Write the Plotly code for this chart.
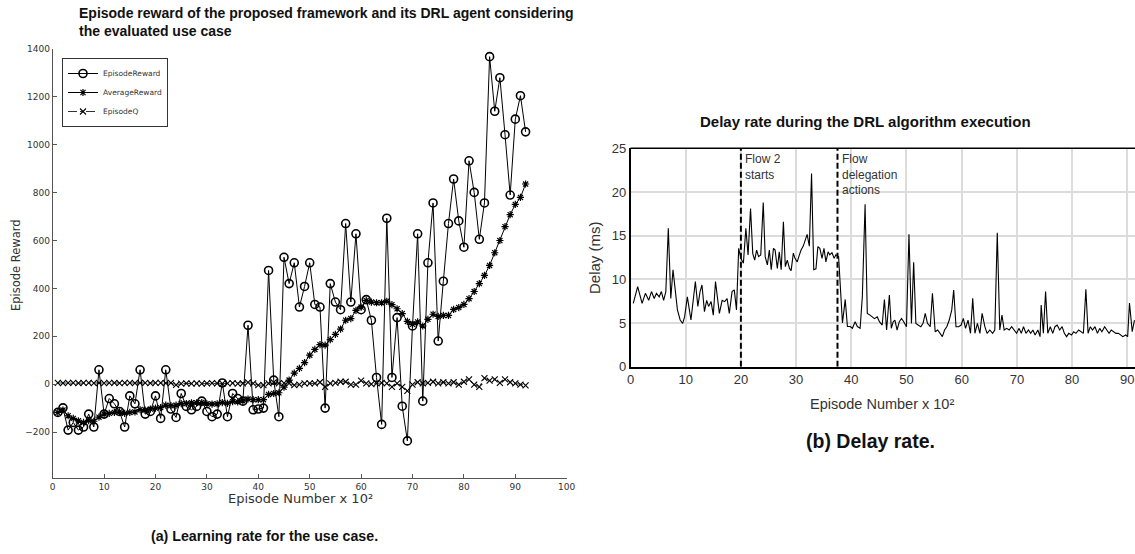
import plotly.graph_objects as go

# ---------------- Left chart data (episode number x 10^2) ----------------
episodes = list(range(1, 93))
episode_reward = [-118, -99, -192, -160, -192, -179, -125, -179, 60, -125,
                  -60, -82, -114, -179, -49, -82, 60, -125, -114, -49,
                  -143, 60, -104, -139, -39, -93, -107, -93, -71, -114,
                  -136, -125, 5, -136, -39, -60, -71, 246, -107, -104,
                  -100, 475, 17, -136, 530, 420, 507, 322, 408, 507,
                  333, 322, -100, 420, 343, 311, 671, 343, 628, 311,
                  353, 267, 28, -168, 693, 28, 278, -92, -237, 243,
                  628, -71, 507, 757, 180, 430, 671, 857, 682, 572,
                  933, 801, 605, 757, 1368, 1140, 1280, 1042, 790, 1107,
                  1205, 1054]
average_reward = [-118, -108, -132, -143, -153, -160, -152, -155, -138, -125,
                  -122, -118, -116, -122, -118, -116, -106, -108, -104, -100,
                  -98, -88, -90, -88, -81, -81, -78, -78, -77, -82,
                  -83, -82, -77, -80, -73, -74, -70, -62, -65, -65,
                  -65, -43, -39, -36, -13, 17, 46, 66, 90, 121,
                  145, 165, 163, 186, 208, 230, 267, 274, 308, 322,
                  350, 343, 340, 340, 346, 332, 315, 295, 262, 250,
                  260, 243, 271, 292, 283, 287, 287, 312, 320, 333,
                  357, 387, 420, 454, 496, 549, 600, 658, 708, 751,
                  780, 836]
episode_q = [5, 4, 5, 5, 4, 5, 5, 4, 5, 4,
             5, 5, 4, 5, 5, 4, 5, 5, 4, 5,
             5, 4, 5, -3, 2, 3, 2, 3, 2, 3,
             4, 3, 2, 3, 4, 2, 3, 7, 3, -4,
             -4, 3, 7, 3, 4, 3, -4, -2, 3, 3,
             3, 8, -11, 3, 5, 10, 10, -2, -2, 15,
             3, 0, 3, 5, 3, -11, 3, -11, -28, -2,
             8, 3, 5, 10, 3, 8, 3, 8, -2, 10,
             20, -2, -11, 25, 15, 20, 5, 20, 8, 3,
             -2, -5]

# ---------------- Right chart data ----------------
delay_x = [0.5, 1.3, 2.1, 2.7, 3.3, 3.8, 4.3, 4.7, 5.2, 5.6, 6.0, 6.4, 6.85, 7.3, 7.7,
           8.1, 8.5, 9.0, 9.45, 9.8, 10.3, 10.95, 11.75, 12.2, 12.6, 12.95, 13.4, 13.8,
           14.15, 14.6, 15.0, 15.4, 15.8, 16.1, 16.6, 17.05, 17.5, 17.9, 18.4, 18.8, 19.2,
           19.6, 20.0, 20.45, 20.9, 21.3, 21.75, 22.15, 22.5, 22.85, 23.2, 23.6, 24.05,
           24.4, 24.8, 25.15, 25.5, 25.9, 26.2, 26.6, 26.95, 27.3, 27.7, 28.05, 28.4,
           28.8, 29.1, 29.5, 29.8, 30.2, 30.6, 30.9, 31.3, 31.6, 32.0, 32.4, 32.8, 33.2,
           33.6, 33.95, 34.3, 34.7, 35.05, 35.4, 35.8, 36.1, 36.5, 36.9, 37.2, 37.7,
           38.4, 38.9, 39.3, 39.8, 40.2, 40.7, 41.1, 41.6, 42.0, 42.5, 42.9, 43.4, 43.8,
           44.2, 44.7, 45.1, 45.6, 46.0, 46.4, 46.9, 47.25, 47.6, 47.9, 48.3, 48.7, 49.1,
           49.5, 50.0, 50.45, 50.9, 51.3, 51.7, 52.1, 52.6, 53.0, 53.4, 53.8, 54.3, 54.7,
           55.2, 55.65, 56.1, 56.5, 56.9, 57.3, 57.75, 58.2, 58.55, 58.97, 59.45, 59.9,
           60.3, 60.7, 61.15, 61.6, 62.0, 62.4, 62.85, 63.3, 63.7, 64.2, 64.6, 65.1, 65.6,
           66.0, 66.45, 66.9, 67.3, 67.7, 68.15, 68.6, 69.05, 69.5, 69.95, 70.4, 70.8,
           71.2, 71.65, 72.1, 72.5, 72.9, 73.3, 73.8, 74.2, 74.4, 74.8, 75.2, 75.6, 76.05,
           76.5, 76.9, 77.3, 77.75, 78.2, 78.6, 79.0, 79.4, 79.9, 80.3, 80.7, 81.2, 81.6,
           82.05, 82.5, 82.9, 83.3, 83.7, 84.15, 84.6, 85.0, 85.4, 85.9, 86.3, 86.7, 87.1,
           87.5, 87.95, 88.4, 88.8, 89.2, 89.7, 90.07, 90.4, 90.9, 91.3]
delay_ms = [7.25, 9.16, 7.25, 8.4, 7.6, 8.6, 7.8, 8.4, 8.0, 8.6, 7.6, 8.6, 15.85, 7.8, 11.1,
            8.8, 6.5, 5.35, 4.95, 5.7, 8.0, 5.35, 9.75, 6.9, 8.6, 9.35, 6.3, 7.6,
            6.9, 7.45, 5.9, 9.75, 7.25, 6.1, 7.6, 7.45, 7.8, 6.1, 8.6, 8.8, 6.5,
            13.55, 12.4, 11.85, 15.85, 12.8, 18.1, 12.95, 12.2, 13.35, 12.6, 12.8, 18.8,
            12.6, 11.65, 13.35, 11.1, 13.55, 13.35, 11.25, 13.15, 11.1, 16.6, 11.45, 12.2,
            11.25, 11.0, 13.0, 12.4, 12.0, 12.8, 13.35, 13.8, 14.5, 15.15, 13.8, 22.1, 11.1,
            11.2, 13.75, 13.55, 12.4, 13.55, 12.0, 13.15, 12.8, 13.05, 12.4, 12.8, 12.6,
            5.0, 7.7, 4.6, 4.6, 4.4, 5.15, 4.6, 4.4, 8.0, 18.6, 6.1, 5.9, 5.7,
            5.5, 5.7, 5.15, 4.77, 7.7, 4.2, 8.2, 4.4, 5.15, 5.34, 4.2, 5.15, 5.53,
            5.15, 4.58, 15.15, 4.96, 11.95, 4.96, 4.77, 4.58, 4.96, 6.1, 4.96, 4.58, 8.4,
            4.0, 4.2, 3.82, 3.44, 4.2, 4.58, 5.34, 6.5, 8.78, 4.58, 4.58, 4.77,
            5.53, 4.39, 5.34, 3.82, 7.82, 3.82, 4.96, 3.82, 6.1, 4.58, 3.82, 4.2, 3.82,
            4.2, 15.34, 4.2, 5.9, 4.2, 4.39, 4.2, 4.58, 4.2, 3.82, 4.39, 3.82,
            4.58, 3.82, 4.2, 3.82, 4.2, 3.63, 4.2, 3.44, 7.06, 3.82, 8.6, 3.82, 4.58,
            3.82, 4.58, 4.77, 4.2, 4.58, 3.82, 3.44, 3.82, 3.63, 4.0, 3.82, 4.2, 4.0,
            3.82, 8.85, 3.82, 4.58, 4.2, 4.58, 3.82, 4.39, 4.0, 4.58, 4.2, 3.82, 4.2,
            4.0, 3.82, 3.82, 3.63, 3.44, 3.63, 3.44, 7.3, 4.0, 5.34]

left_xticks = [0, 10, 20, 30, 40, 50, 60, 70, 80, 90, 100]
left_yticks = [-200, 0, 200, 400, 600, 800, 1000, 1200, 1400]
right_xticks = [0, 10, 20, 30, 40, 50, 60, 70, 80, 90]
right_yticks = [0, 5, 10, 15, 20, 25]
event_x = [20, 37.5]
event_labels = ["Flow 2<br>starts", "Flow<br>delegation<br>actions"]

W, H = 1135, 554


def px(x):
    return x / W


def py(y):
    return 1 - y / H


fig = go.Figure()

fig.add_trace(go.Scatter(x=episodes, y=episode_reward, name="EpisodeReward",
                         mode="lines+markers", line=dict(color="black", width=1),
                         marker=dict(symbol="circle-open", size=8, color="black",
                                     line=dict(width=1.6, color="black")),
                         xaxis="x", yaxis="y"))
fig.add_trace(go.Scatter(x=episodes, y=average_reward, name="AverageReward",
                         mode="lines+markers", line=dict(color="black", width=1),
                         marker=dict(symbol="asterisk-open", size=6, color="black",
                                     line=dict(width=1.2, color="black")),
                         xaxis="x", yaxis="y"))
fig.add_trace(go.Scatter(x=episodes, y=episode_q, name="EpisodeQ",
                         mode="lines+markers", line=dict(color="black", width=0.8, dash="dashdot"),
                         marker=dict(symbol="x-thin-open", size=6, color="black",
                                     line=dict(width=1.1, color="#222")),
                         xaxis="x", yaxis="y"))

fig.add_trace(go.Scatter(x=delay_x, y=delay_ms, mode="lines", showlegend=False,
                         line=dict(color="black", width=1.1),
                         xaxis="x2", yaxis="y2"))

left_font = dict(family="DejaVu Sans", size=9, color="#333")
right_font = dict(family="Liberation Sans", size=13, color="#333")
fig.update_layout(
    width=W, height=H, margin=dict(l=0, r=0, t=0, b=0, autoexpand=False),
    paper_bgcolor="white", plot_bgcolor="white",
    xaxis=dict(domain=[px(52.7), px(566.7)], range=[0, 100], tickvals=left_xticks,
               showline=True, linecolor="#555", linewidth=1, ticks="inside", ticklen=4,
               tickcolor="#555", showgrid=False, zeroline=False, tickfont=left_font,
               anchor="y", automargin=False),
    yaxis=dict(domain=[py(478), py(49)], range=[-392, 1400], tickvals=left_yticks,
               showline=True, linecolor="#555", linewidth=1, ticks="inside", ticklen=4,
               tickcolor="#555", showgrid=False, zeroline=False, tickfont=left_font,
               anchor="x", automargin=False),
    xaxis2=dict(domain=[px(630.5), 1.0], range=[0, 91.4], tickvals=right_xticks,
                showline=True, linecolor="black", linewidth=2,
                showgrid=True, gridcolor="#dcdcdc", gridwidth=1.5, zeroline=False, ticks="",
                tickfont=right_font, anchor="y2", automargin=False),
    yaxis2=dict(domain=[py(366.7), py(148.3)], range=[0, 25], tickvals=right_yticks,
                showline=True, linecolor="black", linewidth=1.5,
                showgrid=True, gridcolor="#dcdcdc", gridwidth=1.5, zeroline=False, ticks="",
                tickfont=right_font, anchor="x2", automargin=False),
    legend=dict(x=px(62), y=py(58), xanchor="left", yanchor="top",
                bgcolor="white", bordercolor="#333", borderwidth=1,
                font=dict(family="DejaVu Sans", size=7.5, color="#333"),
                itemwidth=30, tracegroupgap=0),
    showlegend=True,
)

# top border of right chart
fig.add_shape(type="line", xref="paper", yref="paper", x0=px(630.5), x1=1.0,
              y0=py(148.3), y1=py(148.3), line=dict(color="black", width=1.5))

for ex in event_x:
    fig.add_shape(type="line", xref="x2", yref="y2", x0=ex, x1=ex, y0=0, y1=25,
                  line=dict(color="black", width=2, dash="6px,3px"))


def note(text, x, y, size, family="Liberation Sans", color="#333", angle=0,
         xanchor="center", yanchor="middle", align="center"):
    return dict(text=text, x=px(x), y=py(y), xref="paper", yref="paper",
                xanchor=xanchor, yanchor=yanchor, align=align, textangle=angle,
                showarrow=False, font=dict(family=family, size=size, color=color))


ann = [
    note("<b>Episode reward of the proposed framework and its DRL agent considering<br>the evaluated use case</b>",
         77, 22, 14, color="#111", xanchor="left", align="left"),
    note("Episode Reward", 16, 265, 11.5, family="DejaVu Sans", angle=-90),
    note("Episode Number x 10²", 300, 498, 13, family="DejaVu Sans"),
    note("<b>(a) Learning rate for the use case.</b>", 264, 536, 14.2, color="#111"),
    note("<b>Delay rate during the DRL algorithm execution</b>", 865, 121, 15, color="#111"),
    note("Delay (ms)", 594, 258, 15, angle=-90),
    note("Episode Number x 10²", 882, 404, 14.5),
    note("<b>(b) Delay rate.</b>", 871, 441, 19.5, color="#111"),
]
for ex, lab in zip(event_x, event_labels):
    ann.append(dict(text=lab, x=ex + 0.45, y=24.75, xref="x2", yref="y2", xanchor="left",
                    yanchor="top", align="left", showarrow=False,
                    font=dict(family="Liberation Sans", size=12, color="#333")))
fig.update_layout(annotations=ann)

# the page body gets no margin so the 1135x554 figure fills the window exactly
fig.write_html("out.html", config={"displayModeBar": False},
               post_script="document.body.style.margin='0';document.body.style.overflow='hidden';")
